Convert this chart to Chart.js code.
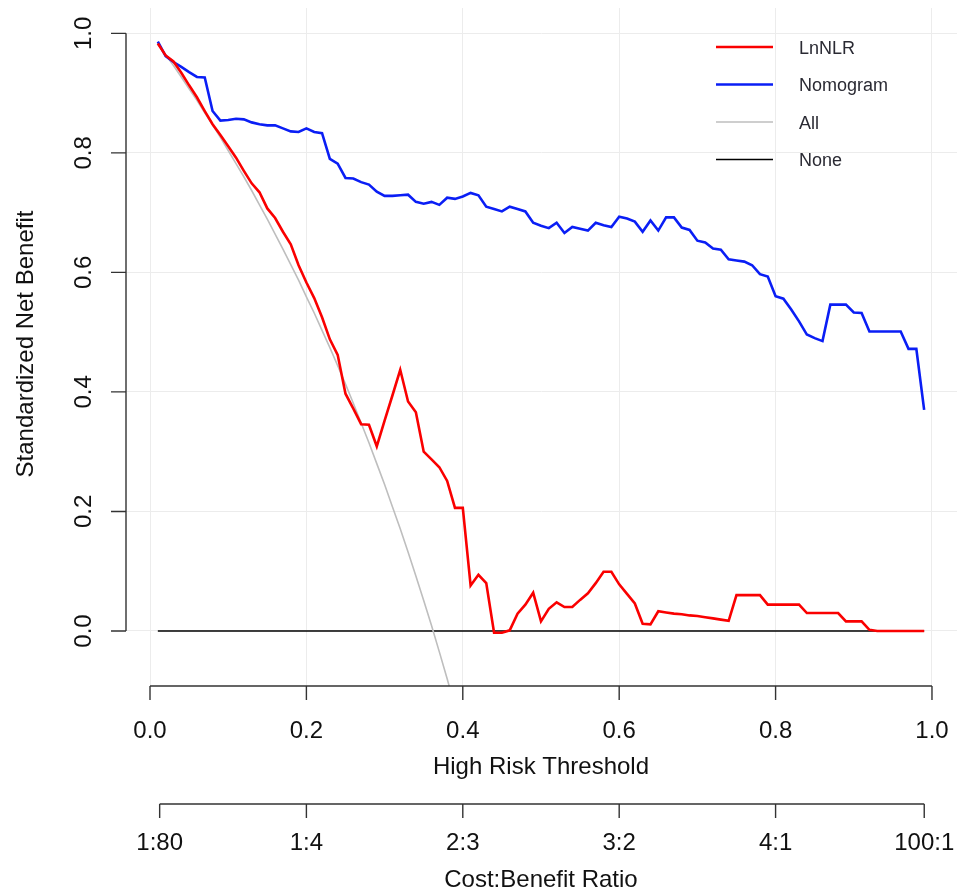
<!DOCTYPE html>
<html lang="en">

<head>
    <meta charset="UTF-8">
    <title>Decision curve</title>
    <style>
        html, body { margin: 0; padding: 0; background: #fff; }
        canvas { display: block; }
    </style>
</head>

<body>
    <canvas id="myChart" width="957" height="893"></canvas>
    <script src="https://cdn.jsdelivr.net/npm/chart.js"></script>
    <script>
        // high risk thresholds used for the two model curves
        const thresholds = [
            0.01, 0.02, 0.03, 0.04, 0.05, 0.06, 0.07, 0.08, 0.09, 0.10,
            0.11, 0.12, 0.13, 0.14, 0.15, 0.16, 0.17, 0.18, 0.19, 0.20,
            0.21, 0.22, 0.23, 0.24, 0.25, 0.26, 0.27, 0.28, 0.29, 0.30,
            0.31, 0.32, 0.33, 0.34, 0.35, 0.36, 0.37, 0.38, 0.39, 0.40,
            0.41, 0.42, 0.43, 0.44, 0.45, 0.46, 0.47, 0.48, 0.49, 0.50,
            0.51, 0.52, 0.53, 0.54, 0.55, 0.56, 0.57, 0.58, 0.59, 0.60,
            0.61, 0.62, 0.63, 0.64, 0.65, 0.66, 0.67, 0.68, 0.69, 0.70,
            0.71, 0.72, 0.73, 0.74, 0.75, 0.76, 0.77, 0.78, 0.79, 0.80,
            0.81, 0.82, 0.83, 0.84, 0.85, 0.86, 0.87, 0.88, 0.89, 0.90,
            0.91, 0.92, 0.93, 0.94, 0.95, 0.96, 0.97, 0.98, 0.99
        ];

        const lnNLR = [
            0.983, 0.963, 0.953, 0.934, 0.913, 0.893, 0.870, 0.848, 0.830, 0.811,
            0.792, 0.770, 0.749, 0.734, 0.707, 0.691, 0.668, 0.647, 0.612, 0.583,
            0.557, 0.525, 0.488, 0.462, 0.397, 0.372, 0.346, 0.345, 0.309, 0.352,
            0.394, 0.437, 0.384, 0.366, 0.300, 0.287, 0.274, 0.251, 0.206, 0.206,
            0.076, 0.094, 0.080, -0.003, -0.003, 0.001, 0.029, 0.044, 0.064, 0.016,
            0.037, 0.048, 0.040, 0.040, 0.052, 0.063, 0.080, 0.099, 0.099, 0.078,
            0.062, 0.046, 0.012, 0.011, 0.033, 0.031, 0.029, 0.028, 0.026, 0.025,
            0.023, 0.021, 0.019, 0.017, 0.060, 0.060, 0.060, 0.060, 0.044, 0.044,
            0.044, 0.044, 0.044, 0.030, 0.030, 0.030, 0.030, 0.030, 0.016, 0.016,
            0.016, 0.002, 0.000, 0.000, 0.000, 0.000, 0.000, 0.000, 0.000
        ];

        const nomogram = [
            0.986, 0.962, 0.952, 0.944, 0.935, 0.927, 0.926, 0.870, 0.854, 0.855,
            0.857, 0.856, 0.851, 0.848, 0.846, 0.846, 0.841, 0.836, 0.835, 0.841,
            0.835, 0.833, 0.790, 0.782, 0.758, 0.757, 0.751, 0.747, 0.735, 0.728,
            0.728, 0.729, 0.730, 0.718, 0.715, 0.718, 0.713, 0.725, 0.723, 0.727,
            0.733, 0.729, 0.710, 0.706, 0.702, 0.710, 0.706, 0.702, 0.683, 0.678,
            0.674, 0.683, 0.666, 0.676, 0.673, 0.670, 0.683, 0.679, 0.676, 0.693,
            0.690, 0.685, 0.668, 0.687, 0.670, 0.692, 0.692, 0.675, 0.671, 0.653,
            0.650, 0.640, 0.638, 0.622, 0.620, 0.618, 0.612, 0.597, 0.593, 0.560,
            0.556, 0.538, 0.518, 0.496, 0.490, 0.485, 0.546, 0.546, 0.546, 0.533,
            0.532, 0.501, 0.501, 0.501, 0.501, 0.501, 0.472, 0.472, 0.370
        ];

        // treat-all curve, read until it leaves the plot
        const allThresholds = [
            0.01, 0.02, 0.03, 0.04, 0.05, 0.06, 0.07, 0.08, 0.09, 0.10,
            0.11, 0.12, 0.13, 0.14, 0.15, 0.16, 0.17, 0.18, 0.19, 0.20,
            0.21, 0.22, 0.23, 0.24, 0.25, 0.26, 0.27, 0.28, 0.29, 0.30,
            0.31, 0.32, 0.33, 0.34, 0.35, 0.36, 0.37, 0.38, 0.39
        ];
        const allValues = [
            0.982, 0.964, 0.946, 0.927, 0.907, 0.888, 0.867, 0.847, 0.826, 0.804,
            0.782, 0.760, 0.737, 0.713, 0.689, 0.664, 0.639, 0.613, 0.587, 0.559,
            0.532, 0.503, 0.474, 0.444, 0.413, 0.381, 0.348, 0.315, 0.280, 0.245,
            0.208, 0.171, 0.132, 0.092, 0.051, 0.009, -0.035, -0.080, -0.127
        ];

        const noneThresholds = [0.01, 0.99];
        const noneValues = [0, 0];

        const yTicks = [0, 0.2, 0.4, 0.6, 0.8, 1.0];
        const xTicks = [0, 0.2, 0.4, 0.6, 0.8, 1.0];
        const costBenefitLabels = ['1:80', '1:4', '2:3', '3:2', '4:1', '100:1'];
        const costBenefitAt = [1 / 81, 0.2, 0.4, 0.6, 0.8, 100 / 101];

        const toPoints = (xs, ys) => xs.map((x, i) => ({ x: x, y: ys[i] }));

        const FONT = '"Liberation Sans", Arial, sans-serif';

        // R-style axes, titles and legend, placed from the chart scales
        const rAxes = {
            id: 'rAxes',
            afterDraw(chart) {
                const ctx = chart.ctx;
                const xs = chart.scales.x;
                const ys = chart.scales.y;
                const left = chart.chartArea.left;
                const bottom = chart.chartArea.bottom;
                ctx.save();
                ctx.strokeStyle = '#333';
                ctx.fillStyle = '#111';
                ctx.lineWidth = 1.4;

                // y axis
                ctx.beginPath();
                ctx.moveTo(left, ys.getPixelForValue(yTicks[0]));
                ctx.lineTo(left, ys.getPixelForValue(yTicks[yTicks.length - 1]));
                yTicks.forEach(v => {
                    const py = ys.getPixelForValue(v);
                    ctx.moveTo(left, py);
                    ctx.lineTo(left - 15, py);
                });
                ctx.stroke();
                ctx.font = '24px ' + FONT;
                ctx.textAlign = 'center';
                ctx.textBaseline = 'middle';
                yTicks.forEach(v => {
                    ctx.save();
                    ctx.translate(83, ys.getPixelForValue(v));
                    ctx.rotate(-Math.PI / 2);
                    ctx.fillText(v.toFixed(1), 0, 1);
                    ctx.restore();
                });
                ctx.save();
                ctx.translate(26, 344);
                ctx.rotate(-Math.PI / 2);
                ctx.fillText('Standardized Net Benefit', 0, 0);
                ctx.restore();

                // threshold axis
                ctx.beginPath();
                ctx.moveTo(xs.getPixelForValue(xTicks[0]), bottom);
                ctx.lineTo(xs.getPixelForValue(xTicks[xTicks.length - 1]), bottom);
                xTicks.forEach(v => {
                    const px = xs.getPixelForValue(v);
                    ctx.moveTo(px, bottom);
                    ctx.lineTo(px, bottom + 14);
                });
                ctx.stroke();
                xTicks.forEach(v => {
                    ctx.fillText(v.toFixed(1), xs.getPixelForValue(v), bottom + 45);
                });
                const midX = (xs.getPixelForValue(0) + xs.getPixelForValue(1)) / 2;
                ctx.fillText('High Risk Threshold', midX, bottom + 81);

                // cost:benefit axis
                const cbY = bottom + 118;
                ctx.beginPath();
                ctx.moveTo(xs.getPixelForValue(costBenefitAt[0]), cbY);
                ctx.lineTo(xs.getPixelForValue(costBenefitAt[costBenefitAt.length - 1]), cbY);
                costBenefitAt.forEach(v => {
                    const px = xs.getPixelForValue(v);
                    ctx.moveTo(px, cbY);
                    ctx.lineTo(px, cbY + 14);
                });
                ctx.stroke();
                costBenefitAt.forEach((v, i) => {
                    ctx.fillText(costBenefitLabels[i], xs.getPixelForValue(v), cbY + 39);
                });
                ctx.fillText('Cost:Benefit Ratio', midX, cbY + 76);

                // legend
                ctx.font = '18px ' + FONT;
                ctx.textAlign = 'left';
                ctx.fillStyle = '#2a2a33';
                chart.data.datasets.forEach((ds, i) => {
                    const ly = 47 + i * 37.5;
                    ctx.beginPath();
                    ctx.strokeStyle = ds.borderColor;
                    ctx.lineWidth = ds.borderWidth;
                    ctx.moveTo(716, ly);
                    ctx.lineTo(773, ly);
                    ctx.stroke();
                    ctx.fillText(ds.label, 799, ly + 2);
                });
                ctx.restore();
            }
        };

        const data = {
            datasets: [{
                label: 'LnNLR',
                data: toPoints(thresholds, lnNLR),
                borderColor: 'rgb(250, 0, 0)',
                borderWidth: 2.6
            }, {
                label: 'Nomogram',
                data: toPoints(thresholds, nomogram),
                borderColor: 'rgb(10, 30, 245)',
                borderWidth: 2.6
            }, {
                label: 'All',
                data: toPoints(allThresholds, allValues),
                borderColor: 'rgb(190, 190, 190)',
                borderWidth: 1.6
            }, {
                label: 'None',
                data: toPoints(noneThresholds, noneValues),
                borderColor: 'rgb(0, 0, 0)',
                borderWidth: 1.6
            }]
        };

        const config = {
            type: 'line',
            data: data,
            options: {
                responsive: false,
                animation: false,
                layout: {
                    padding: { left: 126, right: 0, top: 8, bottom: 207 }
                },
                elements: {
                    point: { radius: 0 },
                    line: { tension: 0, fill: false }
                },
                plugins: {
                    legend: { display: false },
                    tooltip: { enabled: false }
                },
                scales: {
                    x: {
                        type: 'linear',
                        min: -0.0307,
                        max: 1.032,
                        afterBuildTicks: (scale) => {
                            scale.ticks = xTicks.map(v => ({ value: v }));
                        },
                        afterFit: (scale) => { scale.height = 0; },
                        ticks: { display: false },
                        border: { display: false },
                        grid: { color: '#ececec', lineWidth: 1, drawTicks: false }
                    },
                    y: {
                        min: -0.0921,
                        max: 1.0424,
                        afterBuildTicks: (scale) => {
                            scale.ticks = yTicks.map(v => ({ value: v }));
                        },
                        afterFit: (scale) => { scale.width = 0; },
                        ticks: { display: false },
                        border: { display: false },
                        grid: { color: '#ececec', lineWidth: 1, drawTicks: false }
                    }
                }
            },
            plugins: [rAxes]
        };

        const myChart = new Chart(document.getElementById('myChart'), config);
    </script>
</body>

</html>
